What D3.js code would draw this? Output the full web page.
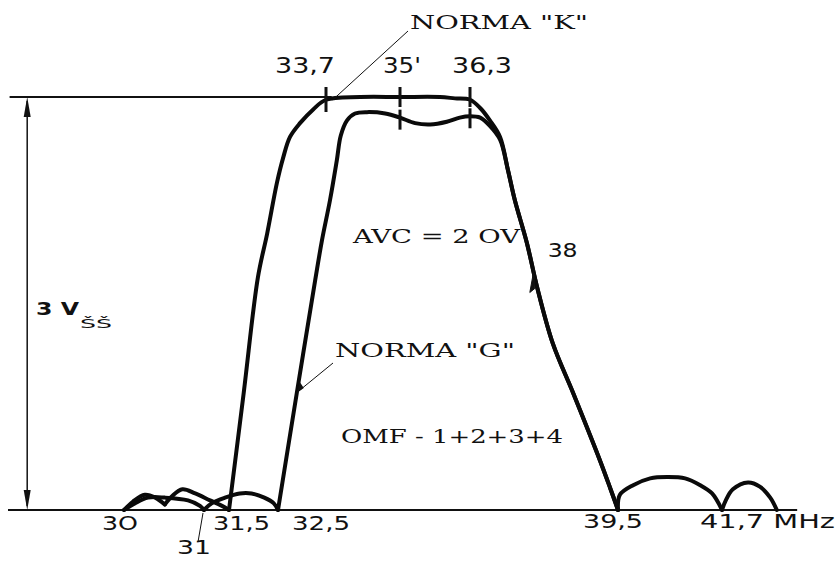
<!DOCTYPE html>
<html>
<head>
<meta charset="utf-8">
<script src="https://cdn.jsdelivr.net/npm/d3@7"></script>
<style>
  body { margin: 0; background: #fff; }
</style>
</head>
<body>
<div id="chart"></div>
<script>
const WIDTH = 838;
const HEIGHT = 561;

// labelled frequencies (MHz) and where the sketch puts them - the drawing is not to scale
const AXIS_FREQS = [30, 31, 31.5, 32.5, 33.7, 35, 36.3, 39.5, 41.7];
const AXIS_PIXELS = [124, 204, 229, 278, 326, 400, 470, 618, 722];

const topTickFreqs = [33.7, 35, 36.3];
const topTickLabels = ["33,7", "35'", "36,3"];
const bottomTickFreqs = [30, 31.5, 32.5, 39.5, 41.7];
const bottomTickLabels = ["3O", "31,5", "32,5", "39,5", "41,7 MHz"];
const gTickFreqs = [35, 36.3];

// response curves, [MHz, volts p-p]
const lowerLobesK = [[30.0, 0], [30.11, 0.06], [30.26, 0.11], [30.39, 0.09], [30.51, 0.04],
  [30.6, 0.10], [30.73, 0.15], [30.89, 0.12], [31.12, 0.07], [31.36, 0.03]];
const passbandK = [[31.5, 0], [31.8, 0.85], [32.09, 1.69], [32.28, 2.01], [32.48, 2.38],
  [32.63, 2.56], [32.8, 2.71], [33.05, 2.81], [33.38, 2.91], [33.7, 2.98], [34.3, 3.0],
  [35.0, 3.0], [35.74, 3.0], [36.02, 2.99], [36.3, 2.98], [36.52, 2.92], [36.73, 2.83],
  [36.95, 2.71]];

const lowerLobesG = [[30.0, 0], [30.14, 0.05], [30.3, 0.09], [30.51, 0.09], [30.8, 0.07],
  [30.95, 0.03], [31.0, 0], [31.16, 0.05], [31.42, 0.09], [31.72, 0.12], [31.96, 0.12],
  [32.22, 0.09], [32.41, 0.05]];
const passbandG = [[32.5, 0], [32.97, 0.85], [33.43, 1.67], [33.6, 1.96], [33.77, 2.25],
  [33.89, 2.54], [33.96, 2.72], [34.07, 2.83], [34.21, 2.88], [34.42, 2.89], [34.74, 2.88],
  [35.0, 2.85], [35.28, 2.81], [35.56, 2.8], [35.87, 2.82], [36.11, 2.85], [36.3, 2.86],
  [36.52, 2.85], [36.73, 2.79], [36.95, 2.69]];

// both norms share the upper slope and the side lobes above 39,5
const upperSlope = [[37.12, 2.47], [37.27, 2.25], [37.53, 1.94], [37.75, 1.62], [38.09, 1.21],
  [38.53, 0.85], [39.11, 0.36], [39.33, 0.16], [39.5, 0]];
const upperLobes = [[39.54, 0.11], [39.82, 0.18], [40.18, 0.23], [40.54, 0.24], [40.92, 0.23],
  [41.24, 0.18], [41.49, 0.12], [41.7, 0], [41.78, 0.07], [41.93, 0.15], [42.25, 0.2],
  [42.5, 0.17], [42.72, 0.09], [42.86, 0]];

const FULL_SCALE = 3; // 3 V p-p

const normaK = lowerLobesK.concat(passbandK, upperSlope, upperLobes);
const normaG = lowerLobesG.concat(passbandG, upperSlope);

const svg = d3.select("#chart")
  .append("svg")
  .attr("width", WIDTH)
  .attr("height", HEIGHT);

svg.append("rect")
  .attr("width", WIDTH)
  .attr("height", HEIGHT)
  .attr("fill", "#fff");

const xScale = d3.scaleLinear()
  .domain(AXIS_FREQS)
  .range(AXIS_PIXELS);

const yScale = d3.scaleLinear()
  .domain([0, FULL_SCALE])
  .range([510, 97]);

// split a curve at the zeros / notches so the lobes meet in sharp cusps
function pieces(points) {
  const out = [];
  let cur = [points[0]];
  for (let i = 1; i < points.length; i++) {
    cur.push(points[i]);
    const v = points[i][1];
    const valley = i < points.length - 1 && v < 0.5 &&
      v <= points[i - 1][1] && v <= points[i + 1][1];
    if (valley) {
      out.push(cur);
      cur = [points[i]];
    }
  }
  out.push(cur);
  return out;
}

function valueAt(points, f) {
  const i = d3.bisector(d => d[0]).left(points, f);
  const a = points[Math.max(0, i - 1)], b = points[Math.min(points.length - 1, i)];
  if (a[0] === b[0]) return b[1];
  return a[1] + (b[1] - a[1]) * (f - a[0]) / (b[0] - a[0]);
}

const line = d3.line()
  .x(d => xScale(d[0]))
  .y(d => yScale(d[1]))
  .curve(d3.curveCatmullRom.alpha(0.5));

// baseline and 3 V reference line
svg.append("line")
  .attr("x1", xScale(28.55)).attr("x2", xScale(43.29))
  .attr("y1", yScale(0)).attr("y2", yScale(0))
  .attr("stroke", "#111").attr("stroke-width", 2);

svg.append("line")
  .attr("x1", xScale(28.57)).attr("x2", xScale(33.8))
  .attr("y1", yScale(FULL_SCALE)).attr("y2", yScale(FULL_SCALE))
  .attr("stroke", "#111").attr("stroke-width", 2);

// dimension arrow for 3 V
const dimX = xScale(28.79);
svg.append("line")
  .attr("x1", dimX).attr("x2", dimX)
  .attr("y1", yScale(FULL_SCALE) + 4).attr("y2", yScale(0) - 4)
  .attr("stroke", "#111").attr("stroke-width", 1.5);

svg.append("path")
  .attr("d", `M${dimX},${yScale(FULL_SCALE)} l-3.5,20 l7,0 Z`)
  .attr("fill", "#111");
svg.append("path")
  .attr("d", `M${dimX},${yScale(0)} l-3.5,-20 l7,0 Z`)
  .attr("fill", "#111");

// the two response curves
[normaG, normaK].forEach(curve => {
  svg.append("g")
    .selectAll("path")
    .data(pieces(curve))
    .enter()
    .append("path")
    .attr("d", line)
    .attr("fill", "none")
    .attr("stroke", "#0a0a0a")
    .attr("stroke-width", 4)
    .attr("stroke-linecap", "round")
    .attr("stroke-linejoin", "round");
});

// frequency marks across the curves
svg.append("g")
  .selectAll("line")
  .data(topTickFreqs)
  .enter()
  .append("line")
  .attr("x1", d => xScale(d)).attr("x2", d => xScale(d))
  .attr("y1", d => yScale(FULL_SCALE) - 10)
  .attr("y2", d => yScale(FULL_SCALE) + (d === 33.7 ? 15 : 10))
  .attr("stroke", "#111").attr("stroke-width", 3);

svg.append("g")
  .selectAll("line")
  .data(gTickFreqs)
  .enter()
  .append("line")
  .attr("x1", d => xScale(d)).attr("x2", d => xScale(d))
  .attr("y1", d => yScale(valueAt(normaG, d)) - 8)
  .attr("y2", d => yScale(valueAt(normaG, d)) + 12)
  .attr("stroke", "#111").attr("stroke-width", 3);

// small barb on the slope near 38 MHz
const barbTip = [xScale(37.68), yScale(1.74)];
svg.append("path")
  .attr("d", `M${barbTip[0]},${barbTip[1]} l-4,22 l5,-4 Z`)
  .attr("fill", "#111").attr("stroke", "#111").attr("stroke-width", 1);

// labels
function label(txt, x, y, len, opts) {
  const o = opts || {};
  return svg.append("text")
    .attr("x", x)
    .attr("y", y)
    .attr("textLength", len)
    .attr("lengthAdjust", "spacingAndGlyphs")
    .style("font-family", o.family || "DejaVu Sans")
    .style("font-size", (o.size || 20) + "px")
    .style("font-weight", o.weight || "normal")
    .style("fill", "#111")
    .text(txt);
}

const topLabelDx = [-51, -17, -18];
const topLabelLen = [60, 38, 60];
topTickLabels.forEach((t, i) => {
  label(t, xScale(topTickFreqs[i]) + topLabelDx[i], 73, topLabelLen[i], { size: 21 });
});

const bottomLabelDx = [-22, -16, 14, -35, -22];
const bottomLabelLen = [36, 57, 58, 60, 135];
const bottomLabelY = [530, 530, 530, 528, 528];
bottomTickLabels.forEach((t, i) => {
  label(t, xScale(bottomTickFreqs[i]) + bottomLabelDx[i], bottomLabelY[i], bottomLabelLen[i], { size: 20 });
});

// 31 MHz hangs below the axis on a leader
label("31", xScale(31) - 27, 554, 34, { size: 19 });
svg.append("line")
  .attr("x1", xScale(31) - 1).attr("y1", yScale(0) + 3)
  .attr("x2", xScale(31) - 6).attr("y2", yScale(0) + 32)
  .attr("stroke", "#111").attr("stroke-width", 1);

label("38", xScale(38) - 1, 257, 30, { size: 20 });

label('NORMA "K"', 410, 29, 178, { family: "DejaVu Serif", size: 18 });
svg.append("line")
  .attr("x1", 408).attr("y1", 31)
  .attr("x2", xScale(33.82)).attr("y2", yScale(2.98))
  .attr("stroke", "#111").attr("stroke-width", 1);

label('NORMA "G"', 335, 357, 180, { family: "DejaVu Serif", size: 19 });
const gArrow = [xScale(32.97), yScale(0.85)];
svg.append("line")
  .attr("x1", 333).attr("y1", 363)
  .attr("x2", gArrow[0] + 2).attr("y2", gArrow[1] - 2)
  .attr("stroke", "#111").attr("stroke-width", 1);
svg.append("path")
  .attr("d", `M${gArrow[0]},${gArrow[1]} l3,-11 l4,6 Z`)
  .attr("fill", "#111");

label("AVC = 2 OV", 353, 243, 167, { family: "DejaVu Serif", size: 19 });
label("OMF - 1+2+3+4", 341, 443, 222, { family: "DejaVu Serif", size: 19 });

label("3 V", 36, 315, 43, { size: 18, weight: "bold" });
label("ŠŠ", 80, 328, 32, { size: 12 });
</script>
</body>
</html>
